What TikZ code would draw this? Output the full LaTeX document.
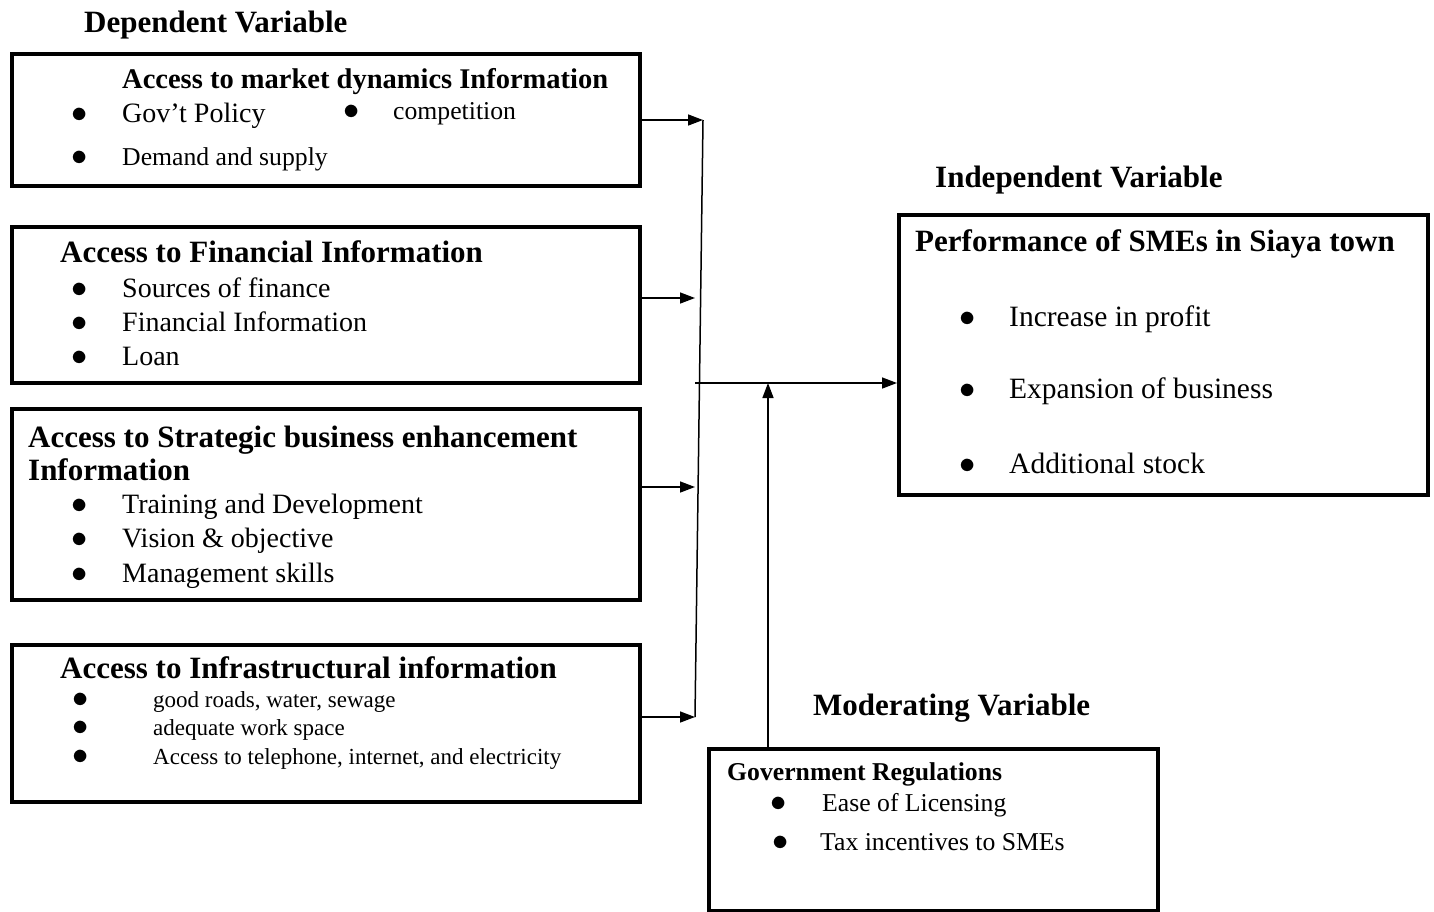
\documentclass[tikz,border=0pt]{standalone}
\usepackage{fontspec}
\usepackage{graphicx}
\setmainfont{Liberation Serif}
\usetikzlibrary{arrows.meta}
\newcommand{\bul}[2]{\makebox[#1][l]{\scalebox{1.3}{$\bullet$}}#2}
\begin{document}
\begin{tikzpicture}[x=1pt,y=-1pt]
	\tikzstyle{every node}=[inner sep=0pt,anchor=base west]
	\tikzstyle{box}=[draw,line width=3.5pt,anchor=north west,minimum width=628pt]
	\tikzstyle{head}=[font=\fontsize{31}{36}\selectfont\bfseries]
	\tikzstyle{item}=[font=\fontsize{28}{33}\selectfont]
	\tikzstyle{small}=[font=\fontsize{25.7}{30}\selectfont]
	\tikzstyle{arr}=[line width=1.5pt,-{Triangle[length=15pt,width=11pt]}]
	\useasboundingbox (0,0) rectangle (1434,911);

	\node[head] (dep) at (84,32) {Dependent Variable};
	\node[head] (indep) at (935,187) {Independent Variable};
	\node[head] (mod) at (813,715) {Moderating Variable};

	\node[box,minimum height=132pt] (market) at (10,52) {};
	\node[box,minimum height=156pt] (fin) at (10,225) {};
	\node[box,minimum height=191pt] (strat) at (10,407) {};
	\node[box,minimum height=157pt] (infra) at (10,643) {};
	\node[box,minimum width=529pt,minimum height=280pt] (perf) at (897,213) {};
	\node[box,minimum width=449pt,minimum height=162pt] (gov) at (707,747) {};

	\node[font=\fontsize{28.5}{33}\selectfont\bfseries] (marketT) at (122,88) {Access to market dynamics Information};
	\node[item] (m1) at (71,122) {\bul{51pt}{Gov’t Policy}};
	\node[small] (m2) at (343.6,119) {\bul{49.4pt}{competition}};
	\node[small] (m3) at (71.6,165) {\bul{50.4pt}{Demand and supply}};

	\node[head] (finT) at (60,262) {Access to Financial Information};
	\node[item] (f1) at (71,297) {\bul{51pt}{Sources of finance}};
	\node[item] (f2) at (71,331) {\bul{51pt}{Financial Information}};
	\node[item] (f3) at (71,365) {\bul{51pt}{Loan}};

	\node[head] (stratT) at (28,447) {Access to Strategic business enhancement};
	\node[head] (stratT2) at (28,480) {Information};
	\node[item] (s1t) at (71,513) {\bul{51pt}{Training and Development}};
	\node[item] (s2t) at (71,547) {\bul{51pt}{Vision \& objective}};
	\node[item] (s3t) at (71,582) {\bul{51pt}{Management skills}};

	\node[head] (infraT) at (60,678) {Access to Infrastructural information};
	\node[font=\fontsize{23}{27}\selectfont] (i1) at (72.5,707) {\bul{80.5pt}{good roads, water, sewage}};
	\node[font=\fontsize{23}{27}\selectfont] (i2) at (72.5,735) {\bul{80.5pt}{adequate work space}};
	\node[font=\fontsize{23}{27}\selectfont] (i3) at (72.5,764) {\bul{80.5pt}{Access to telephone, internet, and electricity}};

	\node[head] (perfT) at (915,251) {Performance of SMEs in Siaya town};
	\node[font=\fontsize{29.5}{34}\selectfont] (p1) at (959.4,326) {\bul{49.6pt}{Increase in profit}};
	\node[font=\fontsize{29.5}{34}\selectfont] (p2) at (959.4,398) {\bul{49.6pt}{Expansion of business}};
	\node[font=\fontsize{29.5}{34}\selectfont] (p3) at (959.4,473) {\bul{49.6pt}{Additional stock}};

	\node[font={\fontsize{25.7}{30}\selectfont\bfseries}] (govT) at (727,780) {Government Regulations};
	\node[small] (g1) at (770.6,811) {\bul{51.4pt}{Ease of Licensing}};
	\node[small] (g2) at (772.6,850) {\bul{47.4pt}{Tax incentives to SMEs}};

	\coordinate (top) at (703,120);
	\coordinate (bot) at (695,717);
	\coordinate (mid2) at (695,298);
	\coordinate (mid3) at (695,487);
	\coordinate (mid) at (695,383);
	\coordinate (join) at (768,383);
	\draw[line width=1.5pt] (top) -- (bot);
	\draw[arr] (market.east |- top) -- (top);
	\draw[arr] (fin.east |- mid2) -- (mid2);
	\draw[arr] (strat.east |- mid3) -- (mid3);
	\draw[arr] (infra.east |- bot) -- (bot);
	\draw[arr] (mid) -- (perf.west |- mid);
	\draw[arr] (gov.north -| join) -- (join);
\end{tikzpicture}
\end{document}
